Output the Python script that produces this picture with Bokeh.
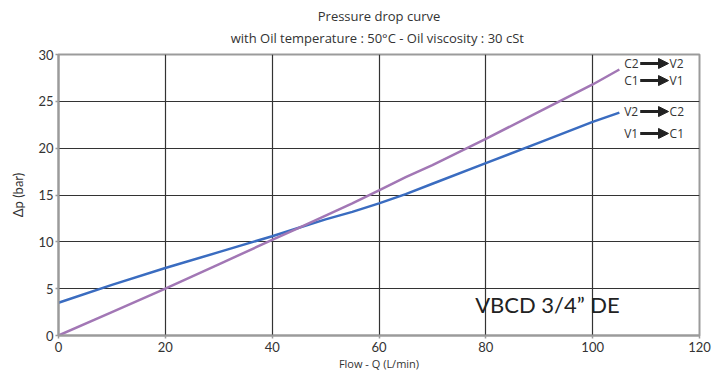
from bokeh.plotting import figure
from bokeh.models import Label, Arrow, NormalHead, FixedTicker, Title, LinearAxis
from bokeh.embed import file_html
from bokeh.resources import INLINE

# ---- data ----
flow = [0, 10, 20, 30, 40, 45, 50, 55, 60, 65, 70, 80, 90, 100, 105]
dp_v_to_c = [3.5, 5.4, 7.2, 8.9, 10.6, 11.5, 12.4, 13.2, 14.1, 15.1, 16.2, 18.4, 20.6, 22.8, 23.8]
dp_c_to_v = [0.0, 2.5, 5.0, 7.6, 10.2, 11.5, 12.8, 14.1, 15.5, 16.9, 18.2, 21.0, 23.9, 26.8, 28.4]
x_ticks = [0, 20, 40, 60, 80, 100, 120]
y_ticks = [0, 5, 10, 15, 20, 25, 30]
title_lines = ["Pressure drop curve", "with Oil temperature :  50°C - Oil viscosity : 30 cSt"]
x_label = "Flow - Q (L/min)"
y_label = "\u0394p (bar)"
legend_c_to_v = [("C2", "V2"), ("C1", "V1")]
legend_v_to_c = [("V2", "C2"), ("V1", "C1")]
model_name = "VBCD 3/4\u201d DE"

BLUE = "#3a6cc0"
PURPLE = "#a277b5"
GRID = "#333333"
FRAME = "#9b9b9b"
TXT = "#333333"
FONT = "Lato"
TFONT = "Open Sans"

p = figure(width=715, height=373, x_range=(0, 120), y_range=(0, 30),
           output_backend="svg", toolbar_location=None,
           min_border_left=58, min_border_right=16, min_border_top=54, min_border_bottom=38)
p.background_fill_color = "white"
p.border_fill_color = "white"
p.outline_line_color = FRAME
p.outline_line_width = 2

bottom_axis = p.below[0]
left_axis = p.left[0]

# second title line as the label of a bare axis above the frame
top_axis = LinearAxis(ticker=FixedTicker(ticks=[]), axis_line_color=None,
                      major_tick_line_color=None, minor_tick_line_color=None,
                      major_tick_out=0, major_tick_in=0, minor_tick_out=0, minor_tick_in=0,
                      major_label_standoff=0, major_label_text_font_size="0px",
                      axis_label=title_lines[1],
                      axis_label_standoff=8, axis_label_text_font=TFONT,
                      axis_label_text_font_size="13px", axis_label_text_font_style="normal",
                      axis_label_text_color=TXT)
p.add_layout(top_axis, "above")
p.add_layout(Title(text=title_lines[0], align="center", text_font=TFONT, text_font_size="13px",
                   text_font_style="normal", text_color=TXT, standoff=2), "above")

p.xgrid.ticker = FixedTicker(ticks=x_ticks[1:-1])
p.ygrid.ticker = FixedTicker(ticks=y_ticks[1:-1])
for g in (p.xgrid, p.ygrid):
    g.grid_line_color = GRID
    g.grid_line_width = 1.2
for ax in (bottom_axis, left_axis):
    ax.axis_line_color = FRAME
    ax.axis_line_width = 2
    ax.major_tick_line_color = FRAME
    ax.major_tick_line_width = 1.5
    ax.major_tick_out = 3
    ax.major_tick_in = 0
    ax.minor_tick_line_color = None
    ax.major_label_text_font = FONT
    ax.major_label_text_font_size = "13px"
    ax.major_label_text_color = TXT
    ax.axis_label_text_font_style = "normal"
    ax.axis_label_text_color = TXT
bottom_axis.ticker = FixedTicker(ticks=x_ticks)
left_axis.ticker = FixedTicker(ticks=y_ticks)
bottom_axis.major_label_standoff = 3
left_axis.major_label_standoff = 2
bottom_axis.axis_label = x_label
bottom_axis.axis_label_text_font = TFONT
bottom_axis.axis_label_text_font_size = "11px"
bottom_axis.axis_label_standoff = 1
left_axis.axis_label = y_label
left_axis.axis_label_text_font = FONT
left_axis.axis_label_text_font_size = "13px"
left_axis.axis_label_standoff = 9

p.line(flow, dp_v_to_c, line_color=BLUE, line_width=2.5)
p.line(flow, dp_c_to_v, line_color=PURPLE, line_width=2.5)

# model name
p.add_layout(Label(x=78.0, y=3.3, text=model_name, text_align="left", text_baseline="middle",
                   text_font=FONT, text_font_size="22px", text_color="#222222"))

# direction legends
rows = list(zip(legend_c_to_v, [29.04, 27.22])) + list(zip(legend_v_to_c, [23.91, 21.57]))
for (a, b), yy in rows:
    p.add_layout(Label(x=105.9, y=yy, text=a, text_align="left", text_baseline="middle",
                       text_font=TFONT, text_font_size="12px", text_color=TXT))
    p.add_layout(Arrow(x_start=108.9, y_start=yy, x_end=114.2, y_end=yy, line_width=3,
                       line_color="#222222",
                       end=NormalHead(size=10, fill_color="#222222", line_color="#222222")))
    p.add_layout(Label(x=114.4, y=yy, text=b, text_align="left", text_baseline="middle",
                       text_font=TFONT, text_font_size="12px", text_color=TXT))

open("out.html", "w").write(file_html(p, INLINE))
